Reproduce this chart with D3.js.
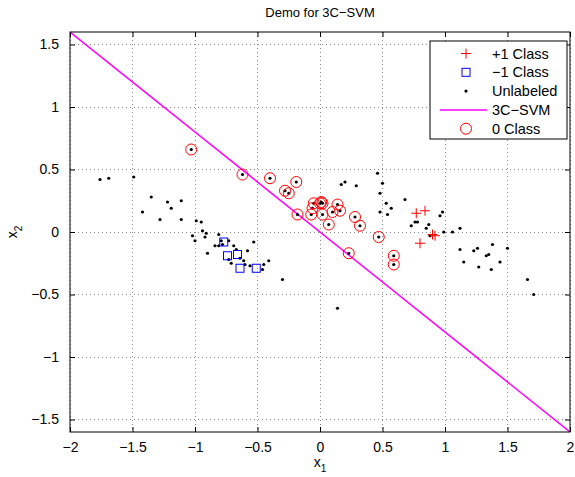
<!DOCTYPE html>
<meta charset="utf-8">
<style>
    body { margin: 0; background: #fff; }
    svg { font-family: "Liberation Sans", Arial, sans-serif; }
    .grid line { stroke: #888; stroke-dasharray: 1,3; shape-rendering: crispEdges; }
</style>
<svg width="575" height="477"></svg>
<script src="https://cdn.jsdelivr.net/npm/d3@7"></script>
<script>
    // data
    const xTicks = [-2, -1.5, -1, -0.5, 0, 0.5, 1, 1.5, 2];
    const yTicks = [-1.5, -1, -0.5, 0, 0.5, 1, 1.5];

    const plusClass = [[0.77, 0.15], [0.84, 0.17], [0.90, -0.02], [0.92, -0.03], [0.80, -0.09]];
    const minusClass = [[-0.77, -0.08], [-0.74, -0.19], [-0.66, -0.18], [-0.64, -0.29], [-0.51, -0.29]];

    // unlabeled points that end up in the 0 class (circled)
    const zeroClass = [
        [-1.03, 0.66], [-0.62, 0.46], [-0.40, 0.43], [-0.19, 0.40], [-0.28, 0.33], [-0.25, 0.31],
        [-0.18, 0.14], [-0.05, 0.23], [-0.06, 0.19], [-0.07, 0.14], [0.00, 0.23], [0.02, 0.23],
        [0.01, 0.24], [0.02, 0.14], [0.10, 0.16], [0.14, 0.22], [0.16, 0.17], [0.07, 0.06],
        [0.28, 0.12], [0.32, 0.05], [0.23, -0.17], [0.47, -0.04], [0.59, -0.19], [0.59, -0.26]
    ];

    // remaining unlabeled points
    const unlabeled = [
        [-1.76, 0.42], [-1.69, 0.43], [-1.49, 0.44], [-1.35, 0.28], [-1.42, 0.16], [-1.22, 0.24],
        [-1.19, 0.19], [-1.11, 0.25], [-1.28, 0.10], [-1.11, 0.10], [-0.99, 0.09], [-0.95, 0.08],
        [-0.94, 0.01], [-0.91, -0.01], [-1.02, -0.03], [-1.00, -0.07], [-0.92, -0.04], [-0.90, -0.17],
        [-0.84, -0.11], [-0.81, -0.02], [-0.81, -0.11], [-0.79, -0.07], [-0.78, -0.10], [-0.73, -0.07],
        [-0.69, -0.11], [-0.67, -0.14], [-0.64, -0.21], [-0.73, -0.22], [-0.71, -0.25], [-0.61, -0.23],
        [-0.60, -0.26], [-0.58, -0.15], [-0.53, -0.08], [-0.56, -0.27], [-0.45, -0.26], [-0.46, -0.30],
        [-0.41, -0.23], [-0.30, -0.38], [0.14, -0.61],
        [0.17, 0.38], [0.20, 0.40], [0.29, 0.37], [0.46, 0.47], [0.50, 0.39], [0.48, 0.31],
        [0.53, 0.23], [0.57, 0.19], [0.48, 0.16], [0.54, 0.14], [0.68, 0.26], [0.73, 0.05],
        [0.76, 0.08], [0.78, 0.08], [0.87, 0.06], [0.85, 0.03], [0.88, -0.03], [0.96, 0.13],
        [0.98, 0.16], [0.99, 0.00], [1.06, 0.00], [1.12, 0.03], [1.12, -0.14], [1.15, -0.24],
        [1.23, -0.15], [1.26, -0.13], [1.27, -0.28], [1.33, -0.19], [1.35, -0.18], [1.38, -0.10],
        [1.37, -0.30], [1.44, -0.24], [1.50, -0.13], [1.66, -0.38], [1.71, -0.50]
    ];

    const svmLine = [[-2, 1.6], [2, -1.6]];

    const legendItems = ["+1 Class", "\u22121 Class", "Unlabeled", "3C\u2212SVM", "0 Class"];

    var svg = d3.select("svg"),
        margin = { top: 32, right: 5, bottom: 45.5, left: 70 },
        width = 500,
        height = 400;

    var x = d3.scaleLinear().domain([-2, 2]).range([0, width]),
        y = d3.scaleLinear().domain([-1.6, 1.6]).range([height, 0]);

    var fmt = d3.format("");

    var g = svg.append("g").attr("transform", "translate(" + margin.left + "," + margin.top + ")");

    // grid
    var grid = g.append("g").attr("class", "grid");
    grid.selectAll(".gx").data(xTicks).enter().append("line")
        .attr("x1", d => x(d)).attr("x2", d => x(d))
        .attr("y1", 0).attr("y2", height);
    grid.selectAll(".gy").data(yTicks).enter().append("line")
        .attr("y1", d => y(d)).attr("y2", d => y(d))
        .attr("x1", 0).attr("x2", width);

    function styleLabels(a) {
        a.select(".domain").remove();
        a.attr("font-family", null).attr("font-size", null);
        a.selectAll("text").style("font-size", "14px").attr("fill", "#000");
        a.selectAll("line").attr("stroke", "#000");
    }

    // axes, ticks pointing inward on all four sides
    g.append("g")
        .attr("transform", "translate(0," + height + ")")
        .call(d3.axisBottom(x).tickValues(xTicks).tickSizeInner(-5).tickSizeOuter(0).tickPadding(10).tickFormat(fmt))
        .call(styleLabels);
    g.append("g")
        .call(d3.axisTop(x).tickValues(xTicks).tickSizeInner(-5).tickSizeOuter(0).tickFormat(""))
        .call(styleLabels);
    g.append("g")
        .call(d3.axisLeft(y).tickValues(yTicks).tickSizeInner(-5).tickSizeOuter(0).tickPadding(11).tickFormat(fmt))
        .call(styleLabels);
    g.append("g")
        .attr("transform", "translate(" + width + ",0)")
        .call(d3.axisRight(y).tickValues(yTicks).tickSizeInner(-5).tickSizeOuter(0).tickFormat(""))
        .call(styleLabels);

    // clip for data marks
    svg.append("clipPath").attr("id", "clip")
        .append("rect").attr("width", width).attr("height", height);
    var plot = g.append("g").attr("clip-path", "url(#clip)");

    // separating line
    plot.append("path")
        .datum(svmLine)
        .attr("d", d3.line().x(d => x(d[0])).y(d => y(d[1])))
        .attr("fill", "none")
        .attr("stroke", "#ff00ff")
        .attr("stroke-width", 1.5);

    // unlabeled dots (incl. those later circled)
    plot.selectAll(".dot").data(unlabeled.concat(zeroClass)).enter().append("circle")
        .attr("class", "dot")
        .attr("cx", d => x(d[0])).attr("cy", d => y(d[1]))
        .attr("r", 1.6).attr("fill", "#000");

    // 0 class circles
    plot.selectAll(".zero").data(zeroClass).enter().append("circle")
        .attr("class", "zero")
        .attr("cx", d => x(d[0])).attr("cy", d => y(d[1]))
        .attr("r", 5.5).attr("fill", "none").attr("stroke", "#ff0000").attr("stroke-width", 1);

    // -1 class squares
    plot.selectAll(".minus").data(minusClass).enter().append("rect")
        .attr("class", "minus")
        .attr("x", d => x(d[0]) - 4).attr("y", d => y(d[1]) - 4)
        .attr("width", 8).attr("height", 8)
        .attr("fill", "none").attr("stroke", "#0000ff").attr("stroke-width", 1);

    // +1 class plus signs
    plot.selectAll(".plus").data(plusClass).enter().append("path")
        .attr("class", "plus")
        .attr("transform", d => "translate(" + x(d[0]) + "," + y(d[1]) + ")")
        .attr("d", "M-5,0H5M0,-5V5")
        .attr("stroke", "#ff0000").attr("stroke-width", 1).attr("fill", "none");

    // frame
    g.append("rect").attr("width", width).attr("height", height)
        .attr("fill", "none").attr("stroke", "#000").attr("stroke-width", 1);

    // titles
    svg.append("text").attr("x", margin.left + width / 2).attr("y", 17)
        .attr("text-anchor", "middle").style("font-size", "13px").text("Demo for 3C\u2212SVM");

    var xl = svg.append("text").attr("x", margin.left + width / 2).attr("y", 467)
        .attr("text-anchor", "middle").style("font-size", "14px");
    xl.append("tspan").text("x");
    xl.append("tspan").attr("dy", 5).style("font-size", "10px").text("1");

    var yl = svg.append("text")
        .attr("transform", "translate(17," + (margin.top + y(0)) + ") rotate(-90)")
        .attr("text-anchor", "middle").style("font-size", "14px");
    yl.append("tspan").text("x");
    yl.append("tspan").attr("dy", 5).style("font-size", "10px").text("2");

    // legend
    var lg = svg.append("g").attr("transform", "translate(430,41)");
    lg.append("rect").attr("width", 137).attr("height", 98)
        .attr("fill", "#fff").attr("stroke", "#000").attr("stroke-width", 1);
    var rows = lg.selectAll(".row").data(legendItems).enter().append("g")
        .attr("transform", (d, i) => "translate(0," + (12.5 + i * 18.8) + ")");
    rows.append("text").attr("x", 62).attr("dy", "0.35em").style("font-size", "14.5px").text(d => d);
    rows.each(function(d, i) {
        var r = d3.select(this), cx = 36;
        if (i === 0) r.append("path").attr("d", "M" + (cx - 5) + ",0H" + (cx + 5) + "M" + cx + ",-5V5")
            .attr("stroke", "#ff0000").attr("fill", "none");
        if (i === 1) r.append("rect").attr("x", cx - 4).attr("y", -4).attr("width", 8).attr("height", 8)
            .attr("fill", "none").attr("stroke", "#0000ff");
        if (i === 2) r.append("circle").attr("cx", cx).attr("r", 1.6).attr("fill", "#000");
        if (i === 3) r.append("line").attr("x1", 10).attr("x2", 57)
            .attr("stroke", "#ff00ff").attr("stroke-width", 1.5);
        if (i === 4) r.append("circle").attr("cx", cx).attr("r", 5.5)
            .attr("fill", "none").attr("stroke", "#ff0000");
    });
</script>
